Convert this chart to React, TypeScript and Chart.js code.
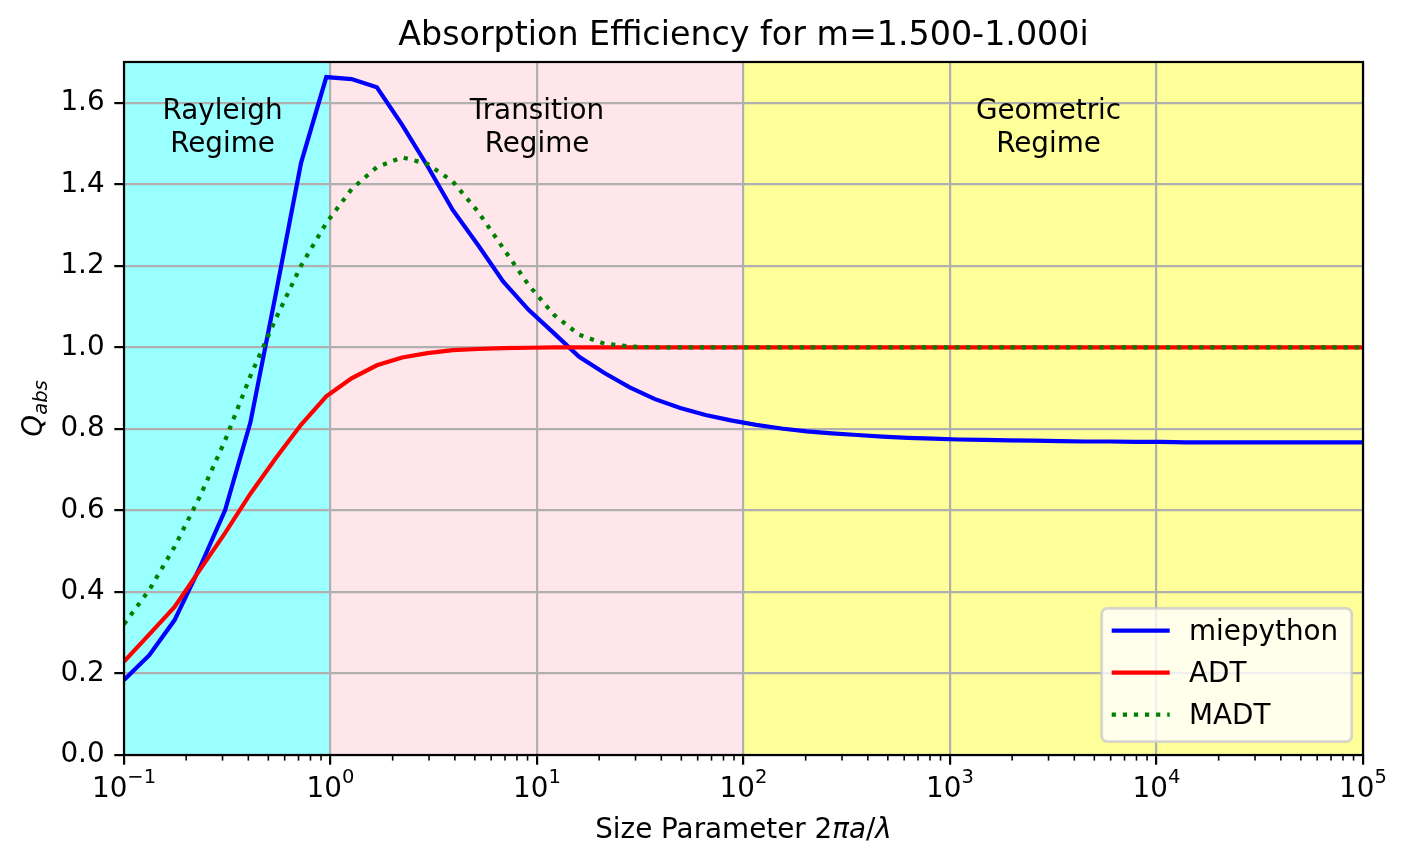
import React, { useEffect, useRef } from "react";
import { Chart, registerables } from "chart.js";

Chart.register(...registerables);

// ---- data ----
const sizeParameter = [
  0.1, 0.13257, 0.17575, 0.233, 0.30888, 0.40949, 0.54287, 0.71969, 0.9541, 1.26486,
  1.67683, 2.223, 2.94705, 3.90694, 5.17947, 6.86649, 9.10298, 12.0679, 15.9986, 21.2095,
  28.1177, 37.2759, 49.4171, 65.5129, 86.8511, 115.14, 152.642, 202.359, 268.27, 355.648,
  471.487, 625.055, 828.643, 1098.54, 1456.35, 1930.7, 2559.55, 3393.22, 4498.43, 5963.62,
  7906.04, 10481.1, 13894.9, 18420.7, 24420.5, 32374.6, 42919.3, 56898.7, 75431.2, 100000,
];
const miepythonQabs = [
  0.184, 0.245, 0.331, 0.46, 0.601, 0.816, 1.13, 1.452, 1.663, 1.658,
  1.638, 1.546, 1.445, 1.337, 1.251, 1.161, 1.092, 1.035, 0.977, 0.937,
  0.902, 0.873, 0.851, 0.834, 0.821, 0.81, 0.801, 0.794, 0.789, 0.785,
  0.781, 0.778, 0.776, 0.774, 0.773, 0.772, 0.771, 0.77, 0.769, 0.769,
  0.768, 0.768, 0.767, 0.767, 0.767, 0.767, 0.767, 0.767, 0.767, 0.767,
];
const adtQabs = [
  0.229, 0.296, 0.363, 0.454, 0.545, 0.641, 0.728, 0.81, 0.88, 0.924,
  0.956, 0.975, 0.986, 0.993, 0.996, 0.998, 0.999, 1.0, 1.0, 1.0,
  1.0, 1.0, 1.0, 1.0, 1.0, 1.0, 1.0, 1.0, 1.0, 1.0,
  1.0, 1.0, 1.0, 1.0, 1.0, 1.0, 1.0, 1.0, 1.0, 1.0,
  1.0, 1.0, 1.0, 1.0, 1.0, 1.0, 1.0, 1.0, 1.0, 1.0,
];
const madtQabs = [
  0.321, 0.405, 0.511, 0.634, 0.772, 0.93, 1.07, 1.2, 1.305, 1.388,
  1.442, 1.466, 1.45, 1.407, 1.333, 1.243, 1.153, 1.08, 1.031, 1.009,
  1.002, 1.0, 1.0, 1.0, 1.0, 1.0, 1.0, 1.0, 1.0, 1.0,
  1.0, 1.0, 1.0, 1.0, 1.0, 1.0, 1.0, 1.0, 1.0, 1.0,
  1.0, 1.0, 1.0, 1.0, 1.0, 1.0, 1.0, 1.0, 1.0, 1.0,
];
const seriesNames = ["miepython", "ADT", "MADT"];
const xMajorTicks = [0.1, 1, 10, 100, 1000, 10000, 100000];
const xTickExponents = ["\u22121", "0", "1", "2", "3", "4", "5"];
const yTicks = [0, 0.2, 0.4, 0.6, 0.8, 1.0, 1.2, 1.4, 1.6];
const regimeEdges = [0.1, 1, 100, 100000];
const regimeColors = ["#99ffff", "#ffe6ea", "#ffff99"];
const regimeLabels = [["Rayleigh", "Regime"], ["Transition", "Regime"], ["Geometric", "Regime"]];
const regimeLabelX = [0.3, 10, 3000];
const regimeLabelY = 1.55;
const titleText = "Absorption Efficiency for m=1.500-1.000i";

const FONT = '"DejaVu Sans"';
const colors = ["#0000ff", "#ff0000", "#008000"];

export default function App() {
  const ref = useRef<HTMLCanvasElement | null>(null);

  useEffect(() => {
    document.body.style.margin = "0";
    const canvas = ref.current;
    if (!canvas) return;

    const bgPlugin = {
      id: "bgRegions",
      beforeDraw(chart: any) {
        const { ctx, chartArea } = chart;
        const xs = chart.scales.x;
        ctx.save();
        ctx.fillStyle = "#ffffff";
        ctx.fillRect(0, 0, chart.width, chart.height);
        for (let i = 0; i < regimeColors.length; i++) {
          const a = xs.getPixelForValue(regimeEdges[i]);
          const b = xs.getPixelForValue(regimeEdges[i + 1]);
          ctx.fillStyle = regimeColors[i];
          ctx.fillRect(a, chartArea.top, b - a, chartArea.bottom - chartArea.top);
        }
        ctx.restore();
      },
    };

    const overlayPlugin = {
      id: "overlay",
      afterDraw(chart: any) {
        const { ctx, chartArea: ca } = chart;
        const xs = chart.scales.x;
        const ys = chart.scales.y;
        ctx.save();

        // spines
        ctx.strokeStyle = "#000";
        ctx.lineWidth = 2.2;
        ctx.strokeRect(ca.left, ca.top, ca.right - ca.left, ca.bottom - ca.top);

        // minor ticks on x
        ctx.lineWidth = 1.6;
        for (let k = -1; k < 5; k++) {
          for (let m = 2; m <= 9; m++) {
            const px = xs.getPixelForValue(m * Math.pow(10, k));
            ctx.beginPath();
            ctx.moveTo(px, ca.bottom);
            ctx.lineTo(px, ca.bottom + 5.6);
            ctx.stroke();
          }
        }

        // x tick labels (10^n)
        ctx.fillStyle = "#000";
        ctx.textBaseline = "alphabetic";
        ctx.textAlign = "left";
        for (let i = 0; i < xMajorTicks.length; i++) {
          const px = xs.getPixelForValue(xMajorTicks[i]);
          ctx.font = `27.8px ${FONT}`;
          const wb = ctx.measureText("10").width;
          ctx.font = `19.5px ${FONT}`;
          const we = ctx.measureText(xTickExponents[i]).width;
          const start = px - (wb + we) / 2;
          ctx.font = `27.8px ${FONT}`;
          ctx.fillText("10", start, 797);
          ctx.font = `19.5px ${FONT}`;
          ctx.fillText(xTickExponents[i], start + wb, 783);
        }

        // x axis label
        const segs: [string, boolean][] = [
          ["Size Parameter 2", false],
          ["\u03c0a", true],
          ["/", false],
          ["\u03bb", true],
        ];
        let total = 0;
        const widths: number[] = [];
        for (const [t, it] of segs) {
          ctx.font = `${it ? "italic " : ""}27.8px ${FONT}`;
          const w = ctx.measureText(t).width;
          widths.push(w);
          total += w;
        }
        let cx = (ca.left + ca.right) / 2 - total / 2;
        segs.forEach(([t, it], i) => {
          ctx.font = `${it ? "italic " : ""}27.8px ${FONT}`;
          ctx.fillText(t, cx, 838);
          cx += widths[i];
        });

        // y axis label Q_abs
        ctx.save();
        ctx.translate(42, (ca.top + ca.bottom) / 2);
        ctx.rotate(-Math.PI / 2);
        ctx.font = `italic 27.8px ${FONT}`;
        const wq = ctx.measureText("Q").width;
        ctx.font = `italic 19.5px ${FONT}`;
        const wa = ctx.measureText("abs").width;
        const s0 = -(wq + wa) / 2;
        ctx.font = `italic 27.8px ${FONT}`;
        ctx.fillText("Q", s0, 0);
        ctx.font = `italic 19.5px ${FONT}`;
        ctx.fillText("abs", s0 + wq, 5);
        ctx.restore();

        // title
        ctx.font = `33.3px ${FONT}`;
        ctx.textAlign = "center";
        ctx.fillText(titleText, (ca.left + ca.right) / 2, 45);

        // regime labels
        ctx.font = `27.8px ${FONT}`;
        const yl = ys.getPixelForValue(regimeLabelY);
        for (let i = 0; i < regimeLabels.length; i++) {
          const px = xs.getPixelForValue(regimeLabelX[i]);
          ctx.fillText(regimeLabels[i][0], px, yl - 4.5);
          ctx.fillText(regimeLabels[i][1], px, yl + 28.5);
        }

        // legend
        const bRight = ca.right - 11.3;
        const bBottom = ca.bottom - 13.3;
        const bW = 250;
        const bH = 133.4;
        const bLeft = bRight - bW;
        const bTop = bBottom - bH;
        const r = 5.6;
        ctx.beginPath();
        ctx.moveTo(bLeft + r, bTop);
        ctx.lineTo(bRight - r, bTop);
        ctx.arcTo(bRight, bTop, bRight, bTop + r, r);
        ctx.lineTo(bRight, bBottom - r);
        ctx.arcTo(bRight, bBottom, bRight - r, bBottom, r);
        ctx.lineTo(bLeft + r, bBottom);
        ctx.arcTo(bLeft, bBottom, bLeft, bBottom - r, r);
        ctx.lineTo(bLeft, bTop + r);
        ctx.arcTo(bLeft, bTop, bLeft + r, bTop, r);
        ctx.closePath();
        ctx.fillStyle = "rgba(255,255,255,0.8)";
        ctx.fill();
        ctx.strokeStyle = "rgba(204,204,204,0.8)";
        ctx.lineWidth = 2.8;
        ctx.stroke();

        ctx.textAlign = "left";
        ctx.font = `27.8px ${FONT}`;
        for (let i = 0; i < seriesNames.length; i++) {
          const ly = bTop + 22.4 + 42 * i;
          ctx.beginPath();
          ctx.strokeStyle = colors[i];
          ctx.lineWidth = 4.2;
          ctx.lineCap = "butt";
          ctx.setLineDash(i === 2 ? [4.2, 6.9] : []);
          ctx.moveTo(bLeft + 10, ly);
          ctx.lineTo(bLeft + 10 + 58, ly);
          ctx.stroke();
          ctx.setLineDash([]);
          ctx.fillStyle = "#000";
          ctx.fillText(seriesNames[i], bLeft + 87.3, ly + 9);
        }

        ctx.restore();
      },
    };

    const seriesData = [miepythonQabs, adtQabs, madtQabs];
    const chart = new Chart(canvas, {
      type: "line",
      data: {
        datasets: seriesNames.map((name, i) => ({
          label: name,
          data: sizeParameter.map((x, j) => ({ x, y: seriesData[i][j] })),
          borderColor: colors[i],
          backgroundColor: colors[i],
          borderWidth: 4.2,
          borderDash: i === 2 ? [4.2, 6.9] : [],
          borderCapStyle: "butt",
          pointRadius: 0,
          tension: 0,
          fill: false,
          order: 3 - i,
        })),
      },
      options: {
        responsive: false,
        animation: false,
        devicePixelRatio: 1,
        layout: { padding: { left: 0, right: 45, top: 62, bottom: 0 } },
        plugins: {
          legend: { display: false },
          title: { display: false },
          tooltip: { enabled: false },
        },
        scales: {
          x: {
            type: "logarithmic",
            min: 0.1,
            max: 100000,
            afterBuildTicks: (s: any) => {
              s.ticks = xMajorTicks.map((v) => ({ value: v, major: true }));
            },
            afterFit: (s: any) => {
              s.height = 109;
            },
            ticks: { display: false },
            grid: {
              color: "#b0b0b0",
              lineWidth: 2.2,
              tickLength: 9.7,
              tickColor: "#000",
              tickWidth: 2.2,
            },
            border: { display: false },
          },
          y: {
            type: "linear",
            min: 0,
            max: 1.7,
            afterBuildTicks: (s: any) => {
              s.ticks = yTicks.map((v) => ({ value: v }));
            },
            afterFit: (s: any) => {
              s.width = 124;
            },
            ticks: {
              color: "#000",
              font: { family: "DejaVu Sans", size: 27.8 },
              padding: 9.7,
              callback: (v: any) => Number(v).toFixed(1),
            },
            grid: {
              color: "#b0b0b0",
              lineWidth: 2.2,
              tickLength: 9.7,
              tickColor: "#000",
              tickWidth: 2.2,
            },
            border: { display: false },
          },
        },
      } as any,
      plugins: [bgPlugin, overlayPlugin],
    });

    return () => chart.destroy();
  }, []);

  return (
    <div style={{ position: "absolute", left: 0, top: 0, width: 1408, height: 864 }}>
      <canvas ref={ref} width={1408} height={864} style={{ display: "block", width: 1408, height: 864 }} />
    </div>
  );
}
